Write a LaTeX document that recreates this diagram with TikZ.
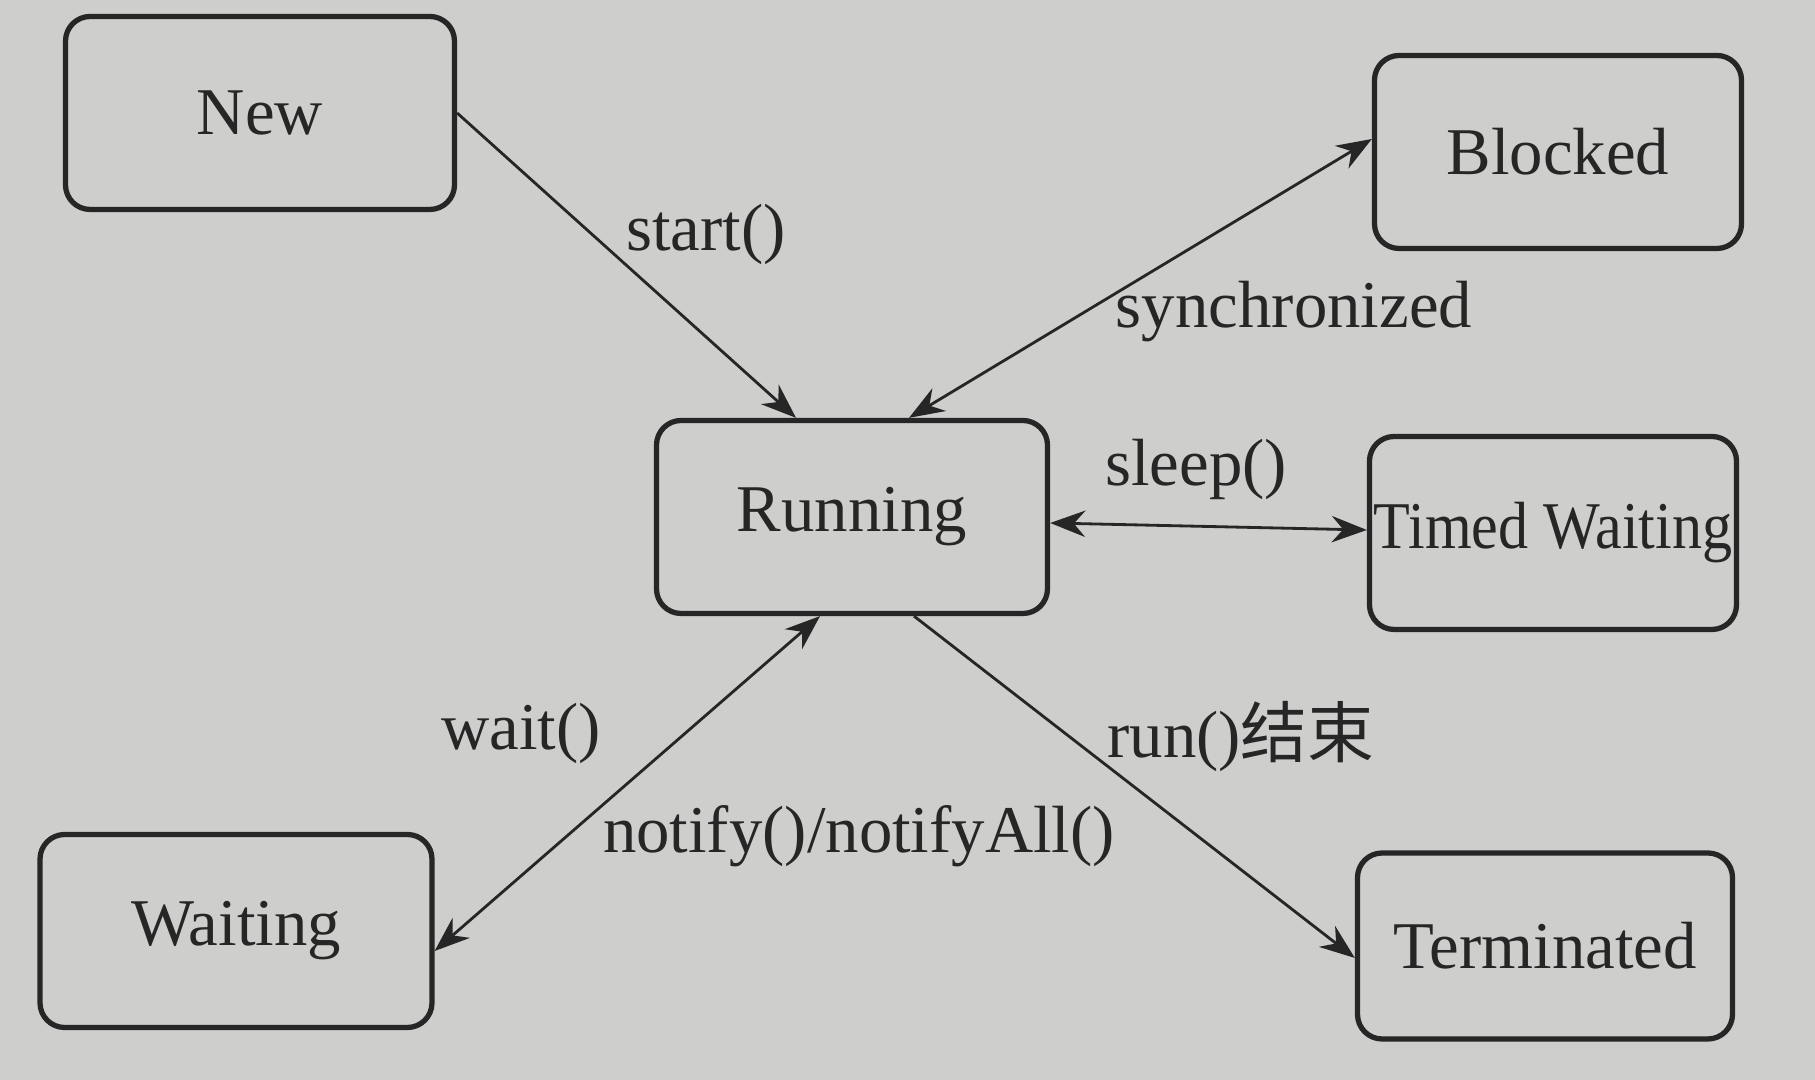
\documentclass[tikz,border=0pt]{standalone}
\usepackage{fontspec}
\setmainfont{Liberation Serif}
\newfontfamily\cjk{Noto Sans CJK SC}
\usetikzlibrary{arrows.meta}
\definecolor{paper}{RGB}{206,206,204}
\definecolor{ink}{RGB}{38,38,38}
\tikzset{
  state/.style={rectangle, rounded corners=7pt, line width=1.5pt, draw=ink,
    text=ink, minimum width=3.75cm, minimum height=1.93cm,
    font=\fontsize{19}{22}\selectfont},
  trans/.style={line width=0.8pt, draw=ink, -{Stealth[length=10pt,width=7.5pt]}},
  both/.style={trans, {Stealth[length=10pt,width=7.5pt]}-{Stealth[length=10pt,width=7.5pt]}},
  lbl/.style={text=ink, font=\fontsize{19}{22}\selectfont, inner sep=1pt}
}
\begin{document}
\begin{tikzpicture}[x=1cm,y=1cm]
\fill[paper] (0,0) rectangle (18.15,10.80);
\useasboundingbox (0,0) rectangle (18.15,10.80);

\node[state, minimum width=3.89cm](new) at (2.60,9.67) {New};
\node[state, minimum width=3.67cm](blocked) at (15.58,9.28) {Blocked};
\node[state, minimum width=3.91cm](running) at (8.52,5.63) {Running};
\node[state, minimum width=3.67cm, inner sep=0pt](timed) at (15.53,5.47) {\scalebox{0.9}[1]{Timed Waiting}};
\node[state, minimum width=3.92cm](waiting) at (2.36,1.49) {Waiting};
\node[state, minimum width=3.75cm, minimum height=1.86cm](term) at (15.45,1.34) {Terminated};

\draw[trans] (new.east) -- ([xshift=-0.56cm]running.north);
\draw[both] ([xshift=0.57cm]running.north) -- ([yshift=0.13cm]blocked.west);
\draw[both] ([yshift=-0.06cm]running.east) -- ([yshift=0.03cm]timed.west);
\draw[both] ([xshift=-0.32cm]running.south) -- ([yshift=-0.20cm]waiting.east);
\draw[trans] ([xshift=0.62cm]running.south) -- ([yshift=-0.12cm]term.west);

\node[lbl](lstart) at (7.06,8.46) {start()};
\node[lbl](lsync) at (12.94,7.68) {synchronized};
\node[lbl](lsleep) at (11.96,6.11) {sleep()};
\node[lbl](lwait) at (5.21,3.47) {wait()};
\node[lbl](lnotify) at (8.59,2.44) {notify()/notifyAll()};
\node[lbl](lrun) at (12.41,3.43) {run(){\cjk 结束}};
\end{tikzpicture}
\end{document}
